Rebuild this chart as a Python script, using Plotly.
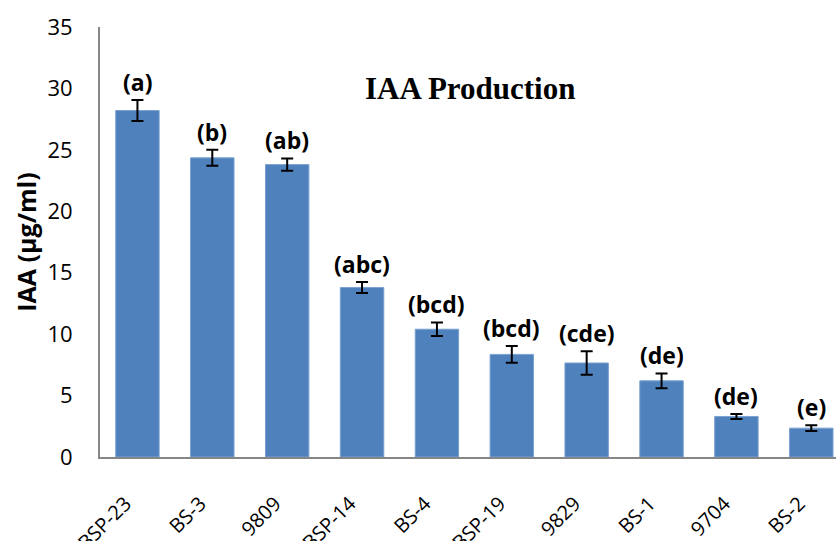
import plotly.graph_objects as go

# Isolates and their IAA production (µg/ml) with standard errors
isolates = ["BSP-23", "BS-3", "9809", "BSP-14", "BS-4", "BSP-19", "9829", "BS-1", "9704", "BS-2"]
iaa_mean = [28.2, 24.35, 23.8, 13.8, 10.4, 8.35, 7.65, 6.2, 3.3, 2.35]
iaa_err = [0.85, 0.65, 0.5, 0.45, 0.55, 0.68, 0.95, 0.6, 0.2, 0.23]
groups = ["(a)", "(b)", "(ab)", "(abc)", "(bcd)", "(bcd)", "(cde)", "(de)", "(de)", "(e)"]

fig = go.Figure()
fig.add_trace(go.Bar(
    x=isolates,
    y=iaa_mean,
    marker=dict(color="#4F81BD", line=dict(color="#7aa0d0", width=1)),
    error_y=dict(type="data", array=iaa_err, visible=True,
                 color="black", thickness=2, width=6),
    width=0.58,
))

# Significance letters above each error bar (positioned by category index)
for i, (m, e, g) in enumerate(zip(iaa_mean, iaa_err, groups)):
    fig.add_annotation(x=i, y=m + e, text=f"<b>{g}</b>", showarrow=False,
                       yanchor="bottom", yshift=0,
                       font=dict(family="Open Sans", size=23, color="black"))

fig.add_annotation(x=0.5, xref="paper", xanchor="center", y=30, yref="y",
                   text="<b>IAA Production</b>", showarrow=False, yanchor="middle",
                   font=dict(family="Liberation Serif", size=31, color="black"),
                   xshift=2)

fig.update_layout(
    width=836, height=541,
    margin=dict(l=100, r=0, t=27, b=84),
    paper_bgcolor="white", plot_bgcolor="white",
    showlegend=False,
    font=dict(family="Open Sans", color="black"),
    xaxis=dict(
        type="category",
        range=[-0.5, 9.33],
        automargin=False,
        showline=True, linecolor="#868686", linewidth=2,
        showgrid=False, ticks="",
        tickangle=-45, tickfont=dict(size=20, family="Open Sans"),
        ticklabelstandoff=25, ticklabelshift=-12,
    ),
    yaxis=dict(
        range=[0, 35], dtick=5,
        automargin=False,
        showline=True, linecolor="#868686", linewidth=2,
        showgrid=False, zeroline=False, ticks="",
        tickfont=dict(size=22, family="Open Sans"),
        ticklabelstandoff=21,
        title=dict(text="<b>IAA (µg/ml)</b>", font=dict(size=25, family="Open Sans"),
                   standoff=4),
    ),
)

fig.write_html("out.html")
